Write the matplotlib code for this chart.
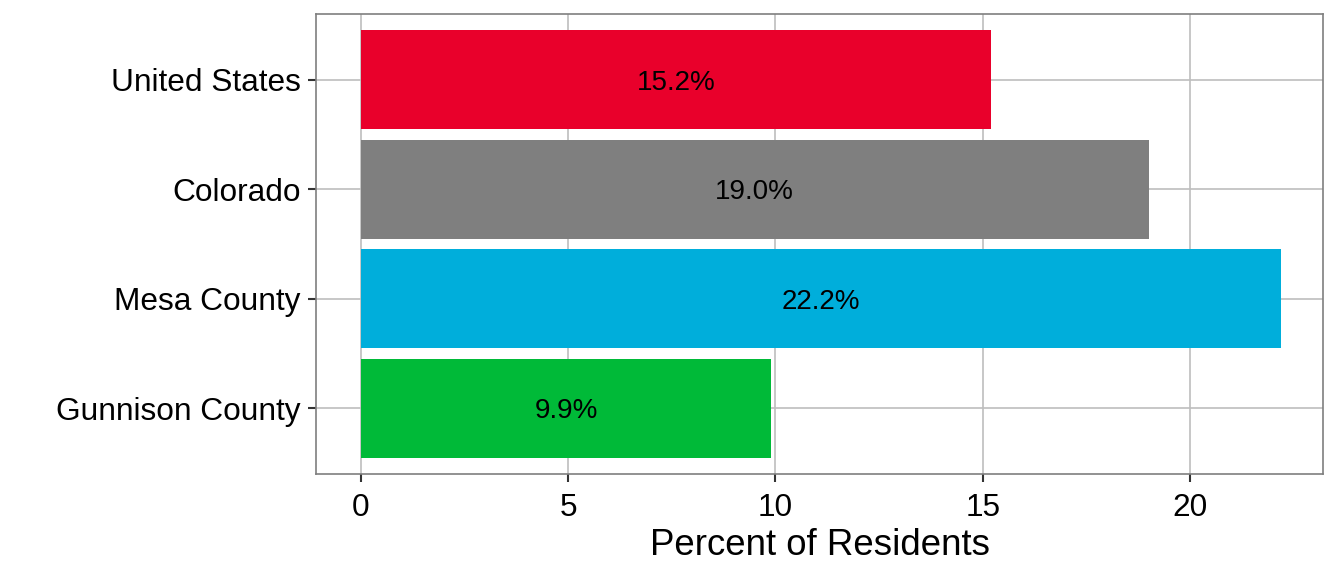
import matplotlib
matplotlib.use('Agg')
import matplotlib.pyplot as plt

plt.rcParams['font.family'] = ['Liberation Sans', 'DejaVu Sans']

# data (bottom to top)
regions = ['Gunnison County', 'Mesa County', 'Colorado', 'United States']
percent = [9.9, 22.2, 19.0, 15.2]
colors = ['#00BA38', '#00AEDB', '#7F7F7F', '#E9002B']

fig = plt.figure(figsize=(13.44, 5.76), dpi=100)
ax = fig.add_axes([0.2351, 0.1771, 0.7493, 0.7986])

ypos = range(1, len(regions) + 1)
ax.barh(ypos, percent, height=0.9, color=colors, zorder=2)
for y, v in zip(ypos, percent):
    ax.text(v / 2, y, f'{v:.1f}%', ha='center', va='center_baseline', fontsize=20, color='black', zorder=3)

ax.set_xlim(-1.086, 23.21)
ax.set_ylim(0.4, 4.6)
ax.set_yticks(list(ypos))
ax.set_yticklabels(regions)
ax.set_xticks([0, 5, 10, 15, 20])
ax.grid(True, color='#BEBEBE', linewidth=1.2, zorder=0)
ax.set_axisbelow(True)
for s in ax.spines.values():
    s.set_color('#7F7F7F')
    s.set_linewidth(1.2)
ax.tick_params(axis='both', labelsize=22.8, color='#333333', length=6, width=1.5, labelcolor='black')
ax.tick_params(axis='x', pad=8)
ax.tick_params(axis='y', pad=5)
ax.set_xlabel('Percent of Residents', fontsize=26.4, labelpad=3)

plt.savefig('out.png', dpi=100)
